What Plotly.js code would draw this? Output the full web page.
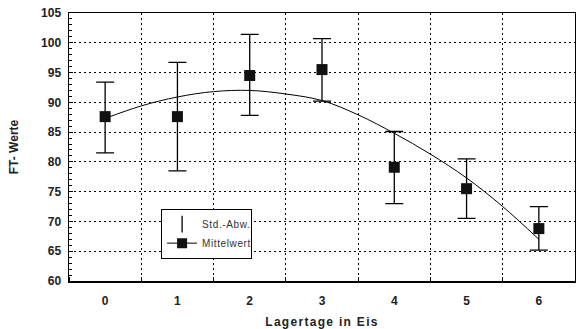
<!DOCTYPE html>
<html><head><meta charset="utf-8">
<script src="https://cdn.plot.ly/plotly-3.0.1.min.js"></script>
<style>html,body{margin:0;padding:0;background:#fff}#c{width:576px;height:329px}</style>
</head><body><div id="c"></div>
<script>
const days = [0, 1, 2, 3, 4, 5, 6];
const meanVals = [87.6, 87.6, 94.5, 95.5, 79.1, 75.5, 68.8];
const errPlus = [5.8, 9.1, 6.9, 5.2, 6.0, 5.0, 3.7];
const errMinus = [6.1, 9.1, 6.7, 5.3, 6.1, 5.0, 3.6];
const fitX = [0, 0.5, 1, 1.5, 2, 2.5, 3, 3.5, 4, 4.5, 5, 5.5, 6];
const fitY = [87.3, 89.4, 90.9, 91.8, 92.0, 91.4, 90.3, 87.9, 84.8, 81.3, 77.3, 72.5, 67.0];
const tickLabels = ['0', '1', '2', '3', '4', '5', '6'];
const yTicks = [60, 65, 70, 75, 80, 85, 90, 95, 100, 105];

const font = {family: '"Liberation Sans", Arial, sans-serif', color: '#000'};

const traces = [
  {x: fitX, y: fitY, mode: 'lines', line: {color: '#000', width: 1, shape: 'spline'}, showlegend: false, hoverinfo: 'skip'},
  {x: days, y: meanVals, mode: 'markers', showlegend: false,
   marker: {color: '#000', size: 11, symbol: 'square', opacity: 0},
   error_y: {type: 'data', symmetric: false, array: errPlus, arrayminus: errMinus, color: '#000', thickness: 1.3, width: 9}},
  {x: days, y: meanVals, mode: 'markers', showlegend: false,
   marker: {color: '#111', size: 11, symbol: 'square'}},
  {x: [null], y: [null], mode: 'markers', name: 'Std.-Abw.',
   marker: {color: '#000', size: 12, symbol: 'line-ns-open', line: {color: '#000', width: 1.3}}},
  {x: [null], y: [null], mode: 'lines+markers', name: 'Mittelwert',
   line: {color: '#000', width: 1}, marker: {color: '#111', size: 10, symbol: 'square'}}
];

const layout = {
  width: 576, height: 329,
  margin: {l: 69, r: 1, t: 13, b: 48},
  paper_bgcolor: '#fff', plot_bgcolor: '#fff',
  font: font,
  showlegend: true,
  legend: {x: 0.182, y: 0.27, xanchor: 'left', yanchor: 'top',
    bgcolor: '#fff', bordercolor: '#000', borderwidth: 1,
    font: {family: font.family, size: 10, color: '#333'}, tracegroupgap: 0, itemwidth: 30},
  xaxis: {
    range: [-0.5, 6.5], tickmode: 'array', tickvals: days, ticktext: tickLabels,
    showgrid: false, zeroline: false, ticks: '', ticklabelstandoff: 8,
    showline: true, linecolor: '#000', linewidth: 1.5, mirror: true,
    tickfont: {family: font.family, size: 12, color: '#222', weight: 'bold'},
    minor: {tick0: 0.5, dtick: 1, showgrid: true, gridcolor: '#000', griddash: '2px,3px', gridwidth: 1.2,
      ticks: 'inside', ticklen: 4, tickcolor: '#000'},
    title: {text: 'Lagertage in Eis', standoff: 14,
      font: {family: font.family, size: 12, color: '#222', weight: 'bold'}}
  },
  yaxis: {
    range: [60, 105], tickmode: 'array', tickvals: yTicks,
    showgrid: true, gridcolor: '#000', griddash: '2px,3px', gridwidth: 1.2,
    zeroline: false, ticks: 'inside', ticklen: 4, tickcolor: '#000', ticklabelstandoff: 4,
    showline: true, linecolor: '#000', linewidth: 1.5, mirror: true,
    tickfont: {family: font.family, size: 12, color: '#222', weight: 'bold'},
    minor: {dtick: 1, ticks: 'inside', ticklen: 3, tickcolor: '#000', showgrid: false},
    title: {text: 'FT- Werte', standoff: 20,
      font: {family: font.family, size: 12, color: '#222', weight: 'bold'}}
  }
};

Plotly.newPlot('c', traces, layout, {displayModeBar: false, staticPlot: true}).then(function () {
  const xt = document.querySelector('.xtitle');
  if (xt) { xt.style.letterSpacing = '1.3px'; }
  document.querySelectorAll('.legendtext').forEach(function (t) { t.style.letterSpacing = '0.6px'; });
});
</script></body></html>
